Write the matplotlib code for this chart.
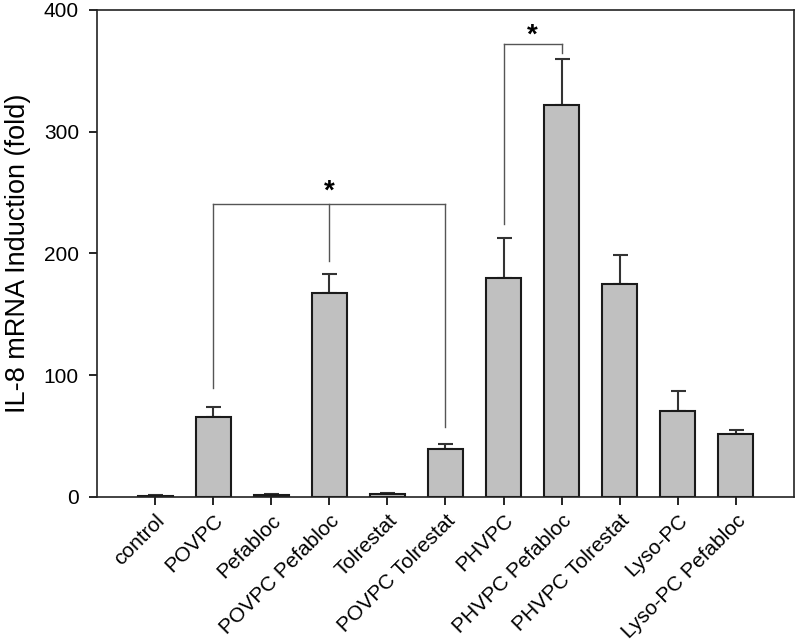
import matplotlib
matplotlib.use("Agg")
import matplotlib.pyplot as plt
import numpy as np

plt.rcParams['font.family'] = ['Liberation Sans', 'DejaVu Sans']

categories = ["control", "POVPC", "Pefabloc", "POVPC Pefabloc", "Tolrestat",
              "POVPC Tolrestat", "PHVPC", "PHVPC Pefabloc", "PHVPC Tolrestat",
              "Lyso-PC", "Lyso-PC Pefabloc"]
values = [1.0, 66, 2.0, 167.5, 2.5, 39.7, 179.5, 322, 175, 70.6, 51.7]
errors = [0.3, 8, 0.3, 15.5, 0.6, 4.1, 33, 38, 24, 16.5, 3.1]

# significance brackets
bracket1_x = [1, 3, 5]
bracket1_bottoms = [89.8, 194, 57.7]
bracket1_top = 240.4
bracket1_star = 240
bracket2_x = [6, 7]
bracket2_bottoms = [224, 364.7]
bracket2_top = 372
bracket2_star = 368

fig = plt.figure(figsize=(7.97, 6.44), dpi=100)
ax = fig.add_axes([0.1217, 0.2283, 0.8745, 0.7562])

x = np.arange(len(categories))
lower = np.zeros(len(errors))
ax.bar(x, values, width=0.6, color="#c0c0c0", edgecolor="#1a1a1a", linewidth=1.5, zorder=2)
ax.errorbar(x, values, yerr=[lower, errors], fmt='none', ecolor="#333333",
            elinewidth=1.5, capsize=5.4, capthick=1.5, zorder=1)

lc = "#555555"
for xi, b in zip(bracket1_x, bracket1_bottoms):
    ax.plot([xi, xi], [b, bracket1_top], color=lc, lw=1.0)
ax.plot([bracket1_x[0], bracket1_x[-1]], [bracket1_top, bracket1_top], color=lc, lw=1.0)
ax.text(bracket1_x[1], bracket1_star, "*", ha="center", va="bottom", fontsize=20, fontweight="bold")
for xi, b in zip(bracket2_x, bracket2_bottoms):
    ax.plot([xi, xi], [b, bracket2_top], color=lc, lw=1.0)
ax.plot([bracket2_x[0], bracket2_x[-1]], [bracket2_top, bracket2_top], color=lc, lw=1.0)
ax.text((bracket2_x[0] + bracket2_x[1]) / 2, bracket2_star, "*", ha="center", va="bottom",
        fontsize=20, fontweight="bold")

ax.set_xlim(-1, 11)
ax.set_ylim(0, 400)
ax.set_yticks([0, 100, 200, 300, 400])
ax.set_xticks(x)
ax.set_xticklabels(categories, rotation=45, ha="right", va="top", rotation_mode="anchor", fontsize=15)
ax.tick_params(axis="y", labelsize=15, length=6, width=1.2, direction="out", pad=7)
ax.tick_params(axis="x", length=6, width=1.2, direction="out", pad=4)
ax.set_ylabel("IL-8 mRNA Induction (fold)", fontsize=19.5, labelpad=9)
for s in ax.spines.values():
    s.set_linewidth(1.2)
    s.set_color("#222222")

fig.savefig("out.png", dpi=100)
